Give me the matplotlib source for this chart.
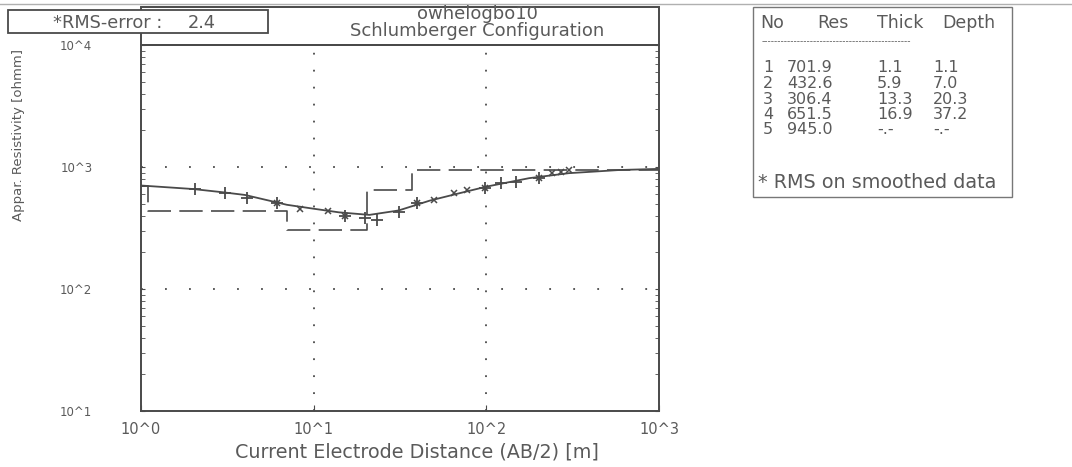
import numpy as np
import matplotlib
matplotlib.use("Agg")
import matplotlib.pyplot as plt
from matplotlib.patches import Rectangle
from matplotlib.ticker import FixedLocator, LogLocator, NullFormatter

# layer model (from the table)
layer_no = [1, 2, 3, 4, 5]
layer_res = [701.9, 432.6, 306.4, 651.5, 945.0]
layer_thick = [1.1, 5.9, 13.3, 16.9]
layer_depth = [1.1, 7.0, 20.3, 37.2]

# field data
meas_ab2 = [2.05, 3.06, 4.10, 6.11, 15.1, 19.7, 23.4, 31.4, 39.9, 98.6, 122, 149, 202]
meas_res = [661, 612, 557, 507, 396, 382, 368, 428, 507, 673, 739, 754, 813]
smooth_ab2 = [6.1, 8.3, 12.05, 15.1, 39.9, 50, 65.3, 77.6, 98.6, 202, 240, 272, 302]
smooth_res = [507, 453, 436, 396, 507, 537, 612, 647, 673, 813, 893, 911, 944]

# calculated curve
calc_ab2 = [1, 2, 3, 4, 7, 10, 14, 21, 31, 47, 70, 100, 177, 300, 590, 1000]
calc_res = [705, 660, 620, 590, 490, 455, 425, 405, 440, 530, 610, 690, 810, 890, 945, 965]

xticks = [1, 10, 100, 1000]
xtick_labels = ["10^0", "10^1", "10^2", "10^3"]
yticks = [10, 100, 1000, 10000]
ytick_labels = ["10^1", "10^2", "10^3", "10^4"]

title_line1 = "owhelogbo10"
title_line2 = "Schlumberger Configuration"
rms_label = "*RMS-error :"
rms_value = "2.4"

ink = "#4a4a4a"
tc = "#5a5a5a"
plt.rcParams["font.family"] = ["DejaVu Sans"]

W, H = 1072, 467
fig = plt.figure(figsize=(W / 100, H / 100), dpi=100)


def px(x, y):
    # pixel -> figure fraction
    return x / W, 1 - y / H


# faint scan border along the top
fig.add_artist(plt.Line2D([0, 1], [1 - 4 / H] * 2, color="#b0b0b0", lw=1.0,
                          transform=fig.transFigure))

l, t = px(141, 45)
r, b = px(659, 411)
ax = fig.add_axes([l, b, r - l, t - b])
ax.set_xscale("log")
ax.set_yscale("log")
ax.set_xlim(1, 1000)
ax.set_ylim(10, 10000)

# dotted grid
for gx in [10, 100]:
    ax.axvline(gx, color=ink, lw=1.3, ls=(0, (1, 8.4)))
for gy in [100, 1000]:
    ax.axhline(gy, color=ink, lw=1.3, ls=(0, (1, 12.3)))

# step model from the layer table
edges = [1] + layer_depth + [1000]
sx, sy = [], []
for i, rho in enumerate(layer_res):
    sx += [edges[i], edges[i + 1]]
    sy += [rho, rho]
ax.plot(sx, sy, color=ink, lw=1.2, ls=(0, (14, 5)))

ax.plot(calc_ab2, calc_res, color=ink, lw=1.3)
ax.plot(meas_ab2, meas_res, ls="none", marker="+", ms=9, mew=1.3, color=ink)
ax.plot(smooth_ab2, smooth_res, ls="none", marker="x", ms=5, mew=1.1, color=ink)

ax.xaxis.set_major_locator(FixedLocator(xticks))
ax.set_xticklabels(xtick_labels)
ax.xaxis.set_minor_locator(FixedLocator([]))
ax.yaxis.set_major_locator(FixedLocator(yticks))
ax.set_yticklabels(ytick_labels)
ax.yaxis.set_minor_locator(LogLocator(base=10, subs=np.arange(2, 10)))
ax.yaxis.set_minor_formatter(NullFormatter())
ax.tick_params(axis="x", direction="in", length=4, color=ink, labelsize=10.5,
               labelcolor=tc, pad=8)
ax.tick_params(axis="y", which="both", direction="in", length=3, color=ink,
               labelsize=8.5, labelcolor=tc, pad=35, right=True)
for s in ax.spines.values():
    s.set_color(ink)
    s.set_linewidth(1.4)

ax.set_xlabel("Current Electrode Distance (AB/2) [m]", fontsize=13.8, color=tc)
ax.xaxis.set_label_coords(0.533, -0.085)
fig.text(*px(19, 135), "Appar. Resistivity [ohmm]", rotation=90, fontsize=9.5,
         color=tc, ha="center", va="center")

# header box
hx, hy = px(141, 45)
hx2, hy2 = px(659, 7)
fig.patches.append(Rectangle((hx, hy), hx2 - hx, hy2 - hy, transform=fig.transFigure,
                             fill=False, ec=ink, lw=1.4))
fig.text(*px(477, 14), title_line1, ha="center", va="center", fontsize=13, color=tc)
fig.text(*px(477, 31), title_line2, ha="center", va="center", fontsize=13, color=tc)

# rms box
rx, ry = px(8, 33)
rx2, ry2 = px(268, 10)
fig.patches.append(Rectangle((rx, ry), rx2 - rx, ry2 - ry, transform=fig.transFigure,
                             fc="white", ec=ink, lw=1.3, zorder=5))
fig.text(*px(53, 23), rms_label, ha="left", va="center", fontsize=12.8, color=tc, zorder=6)
fig.text(*px(188, 23), rms_value, ha="left", va="center", fontsize=12.8, color=tc, zorder=6)

# layer table
tx, ty = px(753, 197)
tx2, ty2 = px(1012, 7)
fig.patches.append(Rectangle((tx, ty), tx2 - tx, ty2 - ty, transform=fig.transFigure,
                             fill=False, ec="#777777", lw=1.0))
fs = 11.5
for xh, hd in zip([760, 817, 877, 942], ["No", "Res", "Thick", "Depth"]):
    fig.text(*px(xh, 23), hd, ha="left", va="center", fontsize=12.5, color=tc)
fig.text(*px(762, 42), "-" * 46, ha="left", va="center", fontsize=6.5, color=tc)
row_y = [68, 83, 99, 114, 130]
for i, no in enumerate(layer_no):
    yy = row_y[i]
    th = f"{layer_thick[i]:.1f}" if i < len(layer_thick) else "-.-"
    dp = f"{layer_depth[i]:.1f}" if i < len(layer_depth) else "-.-"
    cells = [str(no), f"{layer_res[i]:.1f}", th, dp]
    for xc, cell in zip([763, 787, 877, 933], cells):
        fig.text(*px(xc, yy), cell, ha="left", va="center", fontsize=fs, color=tc)
fig.text(*px(758, 182), "* RMS on smoothed data", ha="left", va="center", fontsize=13.8,
         color=tc)

fig.savefig("out.png", dpi=100)
